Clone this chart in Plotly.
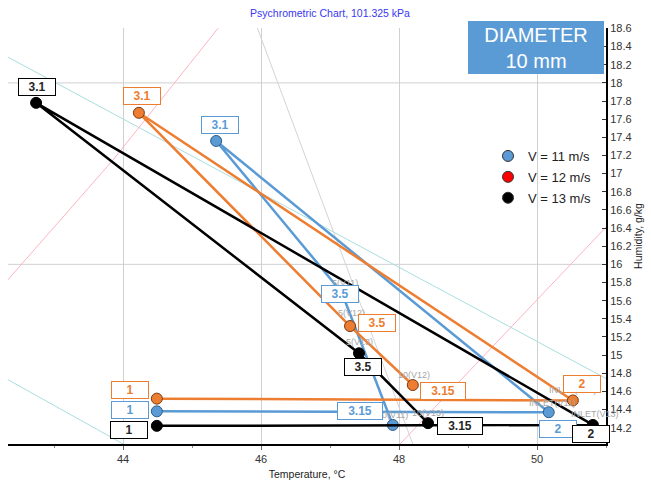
import plotly.graph_objects as go

# ---------------- data ----------------
POINT_NAMES = ["1", "2", "3.1", "3.5", "3.15"]

SERIES_NAMES = ["V = 11 m/s", "V = 12 m/s", "V = 13 m/s"]

TEMP_V11 = [44.49, 50.17, 45.35, 47.17, 47.91]
HUM_V11 = [14.38, 14.37, 17.36, 15.69, 14.23]
TAGS_V11 = ["", "INLET(V11)", "", "5(V11)", "10(V11)"]

TEMP_V12 = [44.49, 50.52, 44.23, 47.29, 48.20]
HUM_V12 = [14.52, 14.50, 17.67, 15.32, 14.67]
TAGS_V12 = ["", "INLET(V12)", "", "5(V12)", "10(V12)"]

TEMP_V13 = [44.49, 50.81, 42.74, 47.42, 48.42]
HUM_V13 = [14.22, 14.23, 17.78, 15.02, 14.25]
TAGS_V13 = ["", "INLET(V13)", "", "5(V13)", "10(V13)"]

# background psychrometric lines
CYAN1_T = [42.0, 51.2]
CYAN1_W = [18.42, 14.66]
CYAN2_T = [42.0, 44.05]
CYAN2_W = [14.87, 14.00]
PINK1_T = [42.2, 42.32, 43.855, 45.376, 45.45]
PINK1_W = [15.68, 15.82, 17.15, 18.60, 18.70]
PINK2_T = [47.99, 51.2]
PINK2_W = [14.00, 16.57]
GRAY_T = [45.90, 48.22]
GRAY_W = [18.70, 13.98]

GRID_Y = [16, 18]

X_RANGE = [42.333, 51.0]
Y_RANGE = [14.02, 18.605]

TITLE = "Psychrometric Chart, 101.325 kPa"
X_TITLE = "Temperature, °C"
Y_TITLE = "Humidity, g/kg"
BADGE = "DIAMETER<br>10 mm"

# ---------------- styles ----------------
LINE_COLORS = ["#5b9bd5", "#ed7d31", "#000000"]
MARKER_EDGES = ["#2e5b85", "#7a3a10", "#000000"]
LEGEND_COLORS = ["#5b9bd5", "#ff0000", "#000000"]
BOX_TEXT = ["#5b9bd5", "#ed7d31", "#262626"]
BOX_BORDER = ["#5b9bd5", "#ed7d31", "#000000"]

# label box offsets (px) relative to each point: (dx, dy)  dy positive = up
BOX_OFFSETS = [
    [(-27, 1), (9, -17), (4, 16), (-2, -2), (-33, 14)],
    [(-27, 9), (9, 16), (3, 17), (27, 3), (30, -6)],
    [(-28, -4), (-2, -9), (1, 16), (4, -14), (32, -3)],
]
TAG_OFFSETS = [
    [(0, 0), (4, 9), (0, 0), (3, 9), (0, 10)],
    [(0, 0), (0, 10), (0, 0), (1, 13), (1, 10)],
    [(0, 0), (2, 11), (0, 0), (1, 11), (0, 10)],
]

series_t = [TEMP_V11, TEMP_V12, TEMP_V13]
series_w = [HUM_V11, HUM_V12, HUM_V13]
series_tags = [TAGS_V11, TAGS_V12, TAGS_V13]

fig = go.Figure()

# background lines
for tx, wy, col in [
    (CYAN1_T, CYAN1_W, "#a9dede"),
    (CYAN2_T, CYAN2_W, "#a9dede"),
    (PINK1_T, PINK1_W, "#ffb3c1"),
    (PINK2_T, PINK2_W, "#ffb3c1"),
    (GRAY_T, GRAY_W, "#d4d4d4"),
]:
    fig.add_trace(go.Scatter(x=tx, y=wy, mode="lines",
                             line=dict(color=col, width=1),
                             hoverinfo="skip", showlegend=False))

# data series
for i in range(3):
    fig.add_trace(go.Scatter(
        x=series_t[i], y=series_w[i], mode="lines+markers",
        line=dict(color=LINE_COLORS[i], width=2.5),
        marker=dict(size=11, color=LINE_COLORS[i],
                    line=dict(color=MARKER_EDGES[i], width=1)),
        showlegend=False, name=SERIES_NAMES[i]))

# legend-only entries
for i in range(3):
    fig.add_trace(go.Scatter(
        x=[None], y=[None], mode="markers", name=SERIES_NAMES[i],
        legendgroup=SERIES_NAMES[i],
        marker=dict(size=11, color=LEGEND_COLORS[i],
                    line=dict(color="#333333", width=1))))

annotations = []
# small gray point tags
for i in range(3):
    for j, tag in enumerate(series_tags[i]):
        if not tag:
            continue
        dx, dy = TAG_OFFSETS[i][j]
        annotations.append(dict(
            x=series_t[i][j], y=series_w[i][j], xref="x", yref="y",
            text=tag, showarrow=False, xshift=dx, yshift=dy,
            font=dict(family="Liberation Sans", size=9, color="#a6a6a6")))

# boxed labels
for i in range(3):
    for j, name in enumerate(POINT_NAMES):
        dx, dy = BOX_OFFSETS[i][j]
        w = 42 if len(name) > 3 else 34
        annotations.append(dict(
            x=series_t[i][j], y=series_w[i][j], xref="x", yref="y",
            text="<b>" + name + "</b>", showarrow=False,
            xshift=dx, yshift=dy, width=w, height=14,
            xanchor="center", yanchor="middle",
            bgcolor="white", bordercolor=BOX_BORDER[i], borderwidth=1,
            borderpad=1, valign="middle",
            font=dict(family="Liberation Sans", size=12, color=BOX_TEXT[i])))

# diameter badge
annotations.append(dict(
    x=(536 - 8) / 598, y=(444 - 47.5) / 416, xref="paper", yref="paper",
    xanchor="center", yanchor="middle",
    text=BADGE, showarrow=False, width=136, height=53,
    bgcolor="#5b9bd5", borderwidth=0, borderpad=0,
    font=dict(family="Liberation Sans", size=20, color="white")))

shapes = [dict(type="line", xref="paper", x0=0, x1=1, yref="y", y0=g, y1=g,
               line=dict(color="#d0d0d0", width=1), layer="below")
          for g in GRID_Y]

fig.update_layout(
    width=651, height=489,
    margin=dict(l=8, r=45, t=28, b=45),
    paper_bgcolor="white", plot_bgcolor="white",
    title=dict(text=TITLE, x=330 / 651, xanchor="center", y=1 - 13 / 489,
               yanchor="middle", xref="container", yref="container",
               font=dict(family="Liberation Sans", size=10.5, color="#3838f0")),
    xaxis=dict(range=X_RANGE, dtick=2, tick0=0, showgrid=True,
               gridcolor="#d0d0d0", gridwidth=1, zeroline=False,
               showline=True, linecolor="black", linewidth=2,
               ticks="outside", ticklen=4, tickcolor="#666",
               automargin=False,
               minor=dict(dtick=1, ticks="outside", ticklen=2, tickcolor="#888"),
               tickfont=dict(family="Liberation Sans", size=11, color="#333"),
               title=dict(text=X_TITLE, standoff=6,
                          font=dict(family="Liberation Sans", size=10.5, color="#222"))),
    yaxis=dict(range=Y_RANGE, dtick=0.2, tick0=0, side="right",
               showgrid=False, zeroline=False,
               showline=True, linecolor="black", linewidth=2,
               ticks="inside", ticklen=4, tickcolor="#333",
               automargin=False,
               tickfont=dict(family="Liberation Sans", size=11, color="#333"),
               title=dict(text=Y_TITLE, standoff=4,
                          font=dict(family="Liberation Sans", size=10.5, color="#222"))),
    legend=dict(x=(488 - 8) / 598, y=(444 - 141) / 416, xanchor="left",
                yanchor="top", bgcolor="rgba(0,0,0,0)",
                traceorder="grouped", tracegroupgap=1,
                font=dict(family="Liberation Sans", size=13, color="#222")),
    annotations=annotations,
    shapes=shapes,
    showlegend=True,
)

fig.write_html("out.html", config={"displayModeBar": False},
               post_script="document.body.style.margin='0';document.body.style.padding='0';")
